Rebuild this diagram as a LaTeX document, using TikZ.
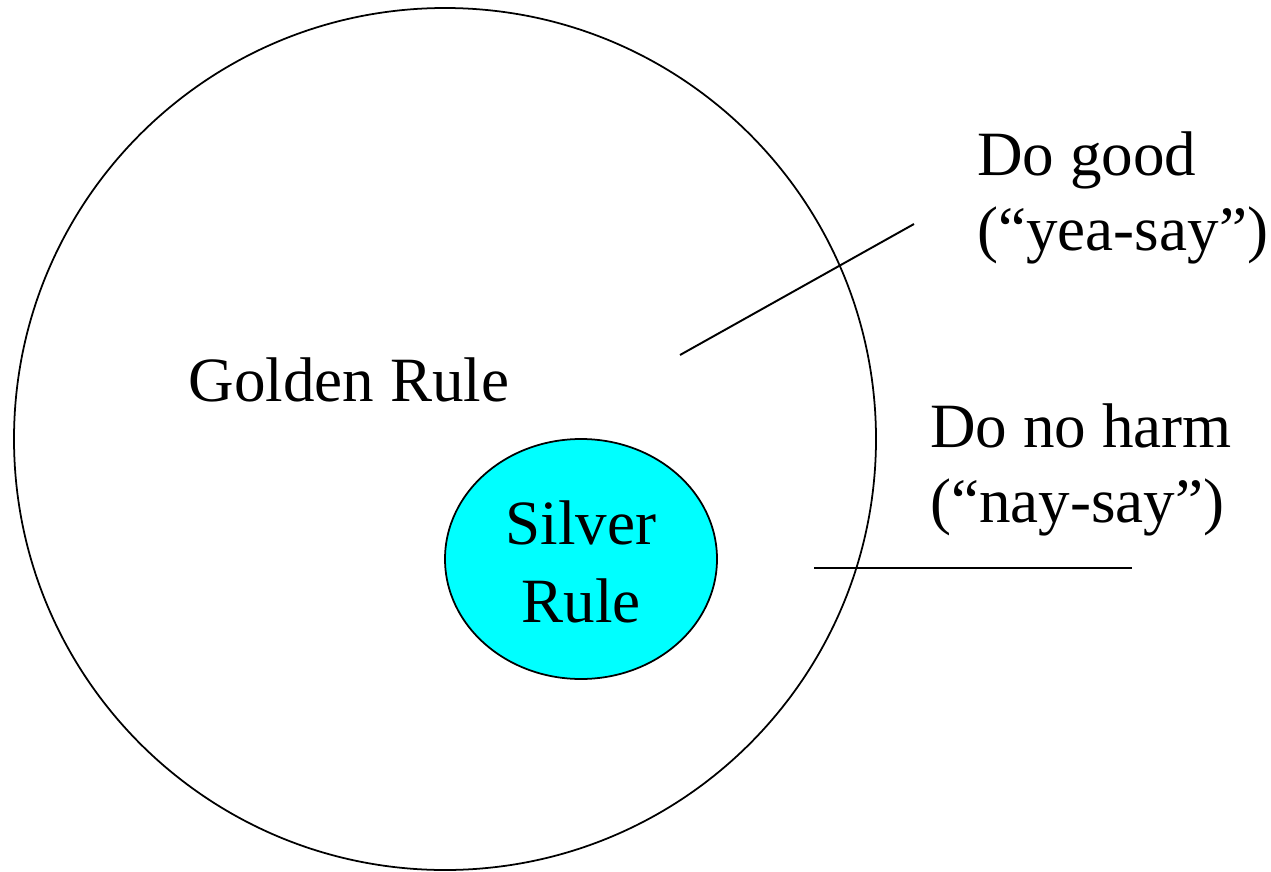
\documentclass[tikz,border=0pt]{standalone}
\usepackage{fontspec}
\setmainfont{Liberation Serif}
\definecolor{silverfill}{RGB}{0,255,255}
\tikzset{
  rulelabel/.style={inner sep=0pt, font=\fontsize{35.9}{42.5}\selectfont},
  leader/.style={line width=1.1pt}
}
\begin{document}
\begin{tikzpicture}[x=0.02cm, y=-0.02cm]
      \useasboundingbox (0,0) rectangle (1271,872);
      %
      \draw[line width=1pt] (445,439) circle (431);
      \draw[line width=1pt, fill=silverfill] (581,559) ellipse (136 and 120);
      %
      \node[rulelabel, anchor=base] (golden) at (349,401) {Golden Rule};
      \node[rulelabel, align=center, anchor=base] (silver) at (581,622)
        {Silver\\[1.5pt]Rule};
      \node[rulelabel, align=left, anchor=base west] (dogood) at (977,250)
        {Do good\\(``yea-say'')};
      \node[rulelabel, align=left, anchor=base west] (noharm) at (930,522)
        {Do no harm\\(``nay-say'')};
      %
      \coordinate (yea) at (680,355);
      \coordinate (yeaend) at (914,224);
      \coordinate (nay) at (814,568);
      \coordinate (nayend) at (1132,568);
      \draw[leader] (yea) -- (yeaend);
      \draw[leader] (nay) -- (nayend);
      %
    \end{tikzpicture}
\end{document}
